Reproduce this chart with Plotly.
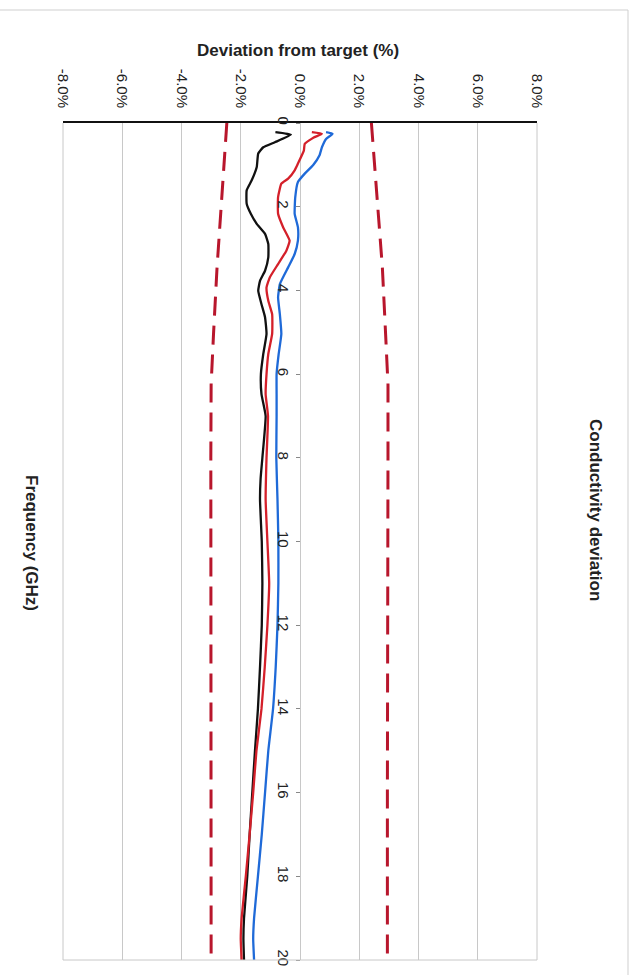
import plotly.graph_objects as go

# Conductivity deviation from target (%) versus frequency (GHz), three measurements
black_freq = [0.22, 0.28, 0.46, 0.58, 0.73, 1.05, 1.37, 1.61, 1.93, 2.17, 2.41, 2.65, 2.89,
              3.21, 3.53, 3.77, 4.01, 4.33, 4.64, 5.04, 5.52, 6.0, 6.48, 7.0, 8.0, 8.5, 9.0,
              10.0, 11.0, 12.0, 13.0, 14.0, 15.0, 16.0, 17.0, 18.0, 19.0, 19.5, 20.0]
black_dev = [-0.83, -0.31, -0.85, -1.24, -1.41, -1.46, -1.63, -1.80, -1.80, -1.66, -1.46,
             -1.18, -1.07, -1.07, -1.18, -1.35, -1.41, -1.30, -1.18, -1.13, -1.24, -1.32,
             -1.30, -1.16, -1.27, -1.33, -1.35, -1.29, -1.27, -1.29, -1.35, -1.42, -1.52,
             -1.61, -1.70, -1.78, -1.89, -1.91, -1.89]

red_freq = [0.22, 0.26, 0.35, 0.50, 0.66, 0.97, 1.13, 1.33, 1.45, 1.77, 2.17, 2.49, 2.81,
            3.05, 3.37, 3.69, 3.93, 4.25, 4.57, 5.04, 5.52, 6.0, 6.48, 7.0, 8.0, 9.0, 10.0,
            11.0, 12.0, 13.0, 14.0, 15.0, 16.0, 17.0, 18.0, 19.0, 19.5, 20.0]
red_dev = [0.40, 0.74, 0.45, 0.16, 0.13, -0.07, -0.18, -0.40, -0.63, -0.74, -0.74, -0.57,
           -0.35, -0.46, -0.74, -1.02, -1.13, -1.07, -0.94, -0.94, -1.07, -1.13, -1.16,
           -1.08, -1.13, -1.16, -1.10, -1.04, -1.10, -1.19, -1.30, -1.47, -1.58, -1.70,
           -1.83, -1.97, -2.00, -1.97]

blue_freq = [0.22, 0.26, 0.38, 0.58, 0.77, 1.01, 1.21, 1.41, 1.77, 2.17, 2.49, 2.81, 3.13,
             3.45, 3.85, 4.17, 4.57, 5.04, 5.52, 6.0, 6.48, 7.0, 8.0, 9.0, 10.0, 11.0, 12.0,
             13.0, 14.0, 15.0, 16.0, 17.0, 18.0, 19.0, 19.5, 20.0]
blue_dev = [0.88, 1.10, 0.88, 0.74, 0.66, 0.44, 0.16, -0.07, -0.16, -0.18, -0.07, -0.07,
            -0.18, -0.40, -0.68, -0.74, -0.68, -0.63, -0.72, -0.79, -0.79, -0.79, -0.80,
            -0.76, -0.73, -0.73, -0.76, -0.82, -0.91, -1.07, -1.18, -1.29, -1.42, -1.55,
            -1.58, -1.55]

# Tolerance limits
limit_freq = [0.0, 1.85, 3.45, 5.05, 6.25, 8.0, 10.0, 12.0, 14.0, 16.0, 18.0, 20.0]
limit_upper = [2.41, 2.61, 2.78, 2.89, 2.97, 2.97, 2.96, 2.96, 2.95, 2.95, 2.95, 2.95]
limit_lower = [-2.47, -2.66, -2.80, -2.92, -3.00, -3.01, -3.01, -3.01, -3.01, -3.00, -3.00, -3.00]

dev_ticks = [-8, -6, -4, -2, 0, 2, 4, 6, 8]
dev_labels = [f"{v:.1f}%" for v in dev_ticks]
freq_ticks = [0, 2, 4, 6, 8, 10, 12, 14, 16, 18, 20]
freq_labels = [str(v) for v in freq_ticks]

FONT = "Liberation Sans, Arial, sans-serif"
LIMIT_COLOR = "#b8162c"
TEXT = "#222222"

# plot area in pixels: x 63..537, y 123..960
L, R, T, B = 63, 537, 123, 960
W, H = R - L, B - T


def px(x):
    return (x - L) / W


def py(y):
    return (B - y) / H


fig = go.Figure()

for lim in (limit_upper, limit_lower):
    fig.add_trace(go.Scatter(x=lim, y=limit_freq, mode="lines",
                             line=dict(color=LIMIT_COLOR, width=3, dash="19px,10px"),
                             hoverinfo="skip"))

for fr, dv, col in ((black_freq, black_dev, "#111111"),
                    (red_freq, red_dev, "#d4202a"),
                    (blue_freq, blue_dev, "#1f6ad8")):
    fig.add_trace(go.Scatter(x=dv, y=fr, mode="lines",
                             line=dict(color=col, width=2.3, shape="spline", smoothing=0.4)))

fig.update_layout(
    width=636, height=979,
    margin=dict(l=L, r=636 - R, t=T, b=979 - B),
    paper_bgcolor="white", plot_bgcolor="white",
    showlegend=False,
    font=dict(family=FONT, color=TEXT, size=14),
    xaxis=dict(
        range=[-8, 8], side="top",
        tickvals=dev_ticks, ticktext=dev_labels, tickangle=90,
        tickfont=dict(size=15, color=TEXT),
        ticklabelstandoff=8,
        showgrid=True, gridcolor="#c8c8c8", gridwidth=1,
        zeroline=False,
        showline=True, linecolor="#111111", linewidth=1.5,
        ticks="", fixedrange=True,
    ),
    yaxis=dict(
        range=[20, 0], anchor="free", position=0.5,
        tickvals=freq_ticks, ticktext=freq_labels, tickangle=90,
        tickfont=dict(size=15, color=TEXT),
        ticks="outside", ticklen=4, tickcolor="#888888",
        showgrid=False, zeroline=False, showline=False, fixedrange=True,
    ),
    shapes=[
        # plot area frame (left, right, bottom)
        dict(type="line", xref="paper", yref="paper", x0=0, x1=0, y0=0, y1=1,
             line=dict(color="#c8c8c8", width=1)),
        dict(type="line", xref="paper", yref="paper", x0=1, x1=1, y0=0, y1=1,
             line=dict(color="#c8c8c8", width=1)),
        dict(type="line", xref="paper", yref="paper", x0=0, x1=1, y0=0, y1=0,
             line=dict(color="#c8c8c8", width=1)),
        # outer chart border, top and right
        dict(type="line", xref="paper", yref="paper",
             x0=px(0), x1=px(628), y0=py(10), y1=py(10),
             line=dict(color="#cfcfcf", width=1)),
        dict(type="line", xref="paper", yref="paper",
             x0=px(628), x1=px(628), y0=py(10), y1=py(975),
             line=dict(color="#cfcfcf", width=1)),
    ],
    annotations=[
        dict(text="<b>Deviation from target (%)</b>", xref="paper", yref="paper",
             x=px(298), y=py(50), xanchor="center", yanchor="middle", showarrow=False,
             font=dict(size=17, color=TEXT, family=FONT)),
        dict(text="<b>Conductivity deviation</b>", xref="paper", yref="paper",
             x=px(596), y=py(510), xanchor="center", yanchor="middle",
             textangle=90, showarrow=False,
             font=dict(size=17, color=TEXT, family=FONT)),
        dict(text="<b>Frequency (GHz)</b>", xref="paper", yref="paper",
             x=px(32), y=py(543), xanchor="center", yanchor="middle",
             textangle=90, showarrow=False,
             font=dict(size=17, color=TEXT, family=FONT)),
    ],
)

fig.write_html("out.html")
